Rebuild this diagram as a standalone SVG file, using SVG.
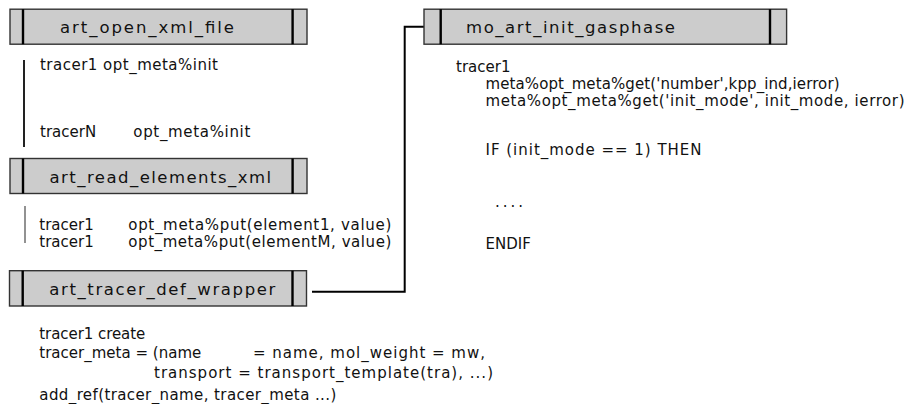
<svg xmlns="http://www.w3.org/2000/svg" width="907" height="404" viewBox="0 0 907 404">
<style>
.box{fill:#cccccc;stroke:#333333;stroke-width:1.4}
.bar{stroke:#000000;stroke-width:2.4}
.title{font-family:"DejaVu Sans","Liberation Sans",sans-serif;font-size:16.5px;fill:#111111}
.t{font-family:"DejaVu Sans","Liberation Sans",sans-serif;font-size:15px;fill:#111111}
.conn{fill:none;stroke:#000000;stroke-width:2}
</style>
<rect width="907" height="404" fill="#ffffff"/>
<g id="connectors">
<path class="conn" d="M312,291.7 H404.7 V26.7 H424"/>
</g>
<g id="art_open_xml_file">
<rect class="box" x="10" y="9.2" width="297" height="35"/>
<line class="bar" x1="23" y1="9.2" x2="23" y2="44.2"/>
<line class="bar" x1="292.6" y1="9.2" x2="292.6" y2="44.2"/>
<text class="title" x="60" y="33.3" textLength="174" lengthAdjust="spacing">art_open_xml_file</text>
</g>
<g id="notes_open">
<line x1="24" y1="60" x2="24" y2="147" stroke="#222222" stroke-width="2"/>
<text class="t" x="40" y="69.5" textLength="178" lengthAdjust="spacing">tracer1 opt_meta%init</text>
<text class="t" x="40" y="137">tracerN</text>
<text class="t" x="133.3" y="137" textLength="117" lengthAdjust="spacing">opt_meta%init</text>
</g>
<g id="art_read_elements_xml">
<rect class="box" x="10" y="158.5" width="297" height="35"/>
<line class="bar" x1="23" y1="158.5" x2="23" y2="193.5"/>
<line class="bar" x1="292.6" y1="158.5" x2="292.6" y2="193.5"/>
<text class="title" x="49.5" y="182.6" textLength="221.5" lengthAdjust="spacing">art_read_elements_xml</text>
</g>
<g id="notes_read">
<line x1="25" y1="206" x2="25" y2="243" stroke="#777777" stroke-width="1.6"/>
<text class="t" x="39.3" y="230.3">tracer1</text>
<text class="t" x="128.3" y="230.3" textLength="263" lengthAdjust="spacing">opt_meta%put(element1, value)</text>
<text class="t" x="39.3" y="246.8">tracer1</text>
<text class="t" x="128.3" y="246.8" textLength="263" lengthAdjust="spacing">opt_meta%put(elementM, value)</text>
</g>
<g id="art_tracer_def_wrapper">
<rect class="box" x="9.5" y="270.7" width="297" height="35.3"/>
<line class="bar" x1="22.7" y1="270.7" x2="22.7" y2="306"/>
<line class="bar" x1="292.5" y1="270.7" x2="292.5" y2="306"/>
<text class="title" x="49.3" y="295" textLength="226" lengthAdjust="spacing">art_tracer_def_wrapper</text>
</g>
<g id="notes_wrapper">
<text class="t" x="39.3" y="338.5" textLength="106" lengthAdjust="spacing">tracer1 create</text>
<text class="t" x="39.3" y="358.3" textLength="162" lengthAdjust="spacing">tracer_meta = (name</text>
<text class="t" x="253" y="358.3" textLength="232" lengthAdjust="spacing">= name, mol_weight = mw,</text>
<text class="t" x="154" y="377.5" textLength="339" lengthAdjust="spacing">transport = transport_template(tra), ...)</text>
<text class="t" x="39.3" y="399.5" textLength="297" lengthAdjust="spacing">add_ref(tracer_name, tracer_meta ...)</text>
</g>
<g id="mo_art_init_gasphase">
<rect class="box" x="424" y="9.2" width="362.6" height="35"/>
<line class="bar" x1="440.7" y1="9.2" x2="440.7" y2="44.2"/>
<line class="bar" x1="770" y1="9.2" x2="770" y2="44.2"/>
<text class="title" x="466" y="33.3" textLength="209" lengthAdjust="spacing">mo_art_init_gasphase</text>
</g>
<g id="notes_gasphase">
<text class="t" x="456" y="71.7">tracer1</text>
<text class="t" x="485.5" y="89.3" textLength="354" lengthAdjust="spacing">meta%opt_meta%get('number',kpp_ind,ierror)</text>
<text class="t" x="485.5" y="105.5" textLength="419" lengthAdjust="spacing">meta%opt_meta%get('init_mode', init_mode, ierror)</text>
<text class="t" x="485.5" y="155" textLength="216" lengthAdjust="spacing">IF (init_mode == 1) THEN</text>
<text class="t" x="495" y="206.5" textLength="28" lengthAdjust="spacing">....</text>
<text class="t" x="485.5" y="249.3">ENDIF</text>
</g>
</svg>
